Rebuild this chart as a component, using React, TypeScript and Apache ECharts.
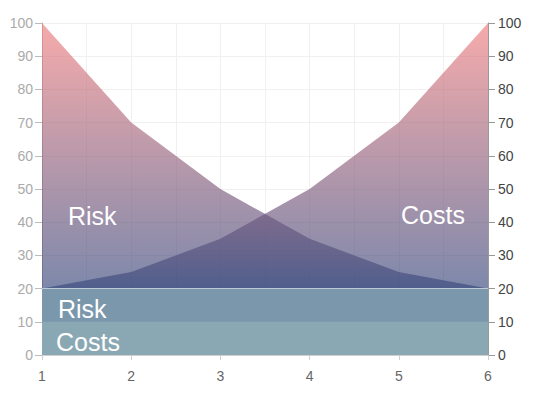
import React, { useEffect, useRef } from "react";
import * as echarts from "echarts";

const xValues = [1, 2, 3, 4, 5, 6];
const riskValues = [100, 70, 50, 35, 25, 20];
const costValues = [20, 25, 35, 50, 70, 100];
const bandTops = [10, 20];
const bandLabels = ["Costs", "Risk"];
const areaLabels = ["Risk", "Costs"];
const baseLevel = 20;

const W = 538;
const H = 395;
const GRID = { left: 42, right: 50, top: 23, bottom: 40 };

export default function App() {
  const ref = useRef<HTMLDivElement>(null);
  useEffect(() => {
    if (!ref.current) return;
    const chart = echarts.init(ref.current, null, { renderer: "svg" });
    const plotH = H - GRID.top - GRID.bottom;
    const yTop = GRID.top;
    const y20 = GRID.top + plotH * (1 - baseLevel / 100);
    const grad = {
      type: "linear",
      x: 0,
      y: yTop,
      x2: 0,
      y2: y20,
      global: true,
      colorStops: [
        { offset: 0, color: "rgba(241,125,125,0.65)" },
        { offset: 1, color: "rgba(56,72,125,0.65)" },
      ],
    };
    const font = "'Liberation Sans', Arial, Helvetica, sans-serif";
    const xEnds = [xValues[0], xValues[xValues.length - 1]];
    const option: any = {
      animation: false,
      grid: GRID,
      xAxis: {
        type: "value",
        min: 1,
        max: 6,
        interval: 1,
        axisLine: { show: true, lineStyle: { color: "#cfcfcf" } },
        axisTick: { show: true, length: 5, lineStyle: { color: "#cfcfcf" } },
        axisLabel: { color: "#666", fontSize: 14, margin: 14, fontFamily: font },
        splitLine: { show: true, lineStyle: { color: "#f0f0f0" } },
        minorTick: { show: false, splitNumber: 2 },
        minorSplitLine: { show: true, lineStyle: { color: "#f0f0f0" } },
      },
      yAxis: [
        {
          type: "value",
          min: 0,
          max: 100,
          interval: 10,
          position: "left",
          axisLine: { show: true, lineStyle: { color: "#bbb" } },
          axisTick: { show: true, length: 7, lineStyle: { color: "#bbb" } },
          axisLabel: { color: "#aaa", fontSize: 14, margin: 9, fontFamily: font },
          splitLine: { show: true, lineStyle: { color: "#f0f0f0" } },
        },
        {
          type: "value",
          min: 0,
          max: 100,
          interval: 10,
          position: "right",
          axisLine: { show: true, lineStyle: { color: "#999" } },
          axisTick: { show: true, length: 7, lineStyle: { color: "#999" } },
          axisLabel: { color: "#444", fontSize: 14, margin: 10, fontFamily: font },
          splitLine: { show: false },
        },
      ],
      series: [
        {
          name: "Risk",
          type: "line",
          data: xValues.map((x, i) => [x, riskValues[i]]),
          symbol: "none",
          lineStyle: { width: 0 },
          areaStyle: { color: grad, opacity: 1 },
          z: 2,
        },
        {
          name: "Costs",
          type: "line",
          data: xValues.map((x, i) => [x, costValues[i]]),
          symbol: "none",
          lineStyle: { width: 0 },
          areaStyle: { color: grad, opacity: 1 },
          z: 2,
        },
        {
          name: "RiskBand",
          type: "line",
          data: xEnds.map((x) => [x, bandTops[1]]),
          symbol: "none",
          lineStyle: { width: 0 },
          areaStyle: { color: "#7a97ab", opacity: 1, origin: "start" },
          z: 5,
          silent: true,
        },
        {
          name: "CostsBand",
          type: "line",
          data: xEnds.map((x) => [x, bandTops[0]]),
          symbol: "none",
          lineStyle: { width: 0 },
          areaStyle: { color: "#8aa8b4", opacity: 1, origin: "start" },
          z: 6,
          silent: true,
          markLine: {
            silent: true,
            symbol: "none",
            label: { show: false },
            lineStyle: { color: "#fff", width: 2, type: "solid" },
            data: [{ yAxis: baseLevel }],
          },
        },
      ],
      graphic: [
        {
          type: "text",
          left: 68,
          top: 203,
          z: 10,
          style: { text: areaLabels[0], fill: "#fff", fontSize: 25, fontFamily: font },
        },
        {
          type: "text",
          left: 401,
          top: 202,
          z: 10,
          style: { text: areaLabels[1], fill: "#fff", fontSize: 25, fontFamily: font },
        },
        {
          type: "text",
          left: 58,
          top: 296,
          z: 10,
          style: { text: bandLabels[1], fill: "#fff", fontSize: 25, fontFamily: font },
        },
        {
          type: "text",
          left: 56,
          top: 329,
          z: 10,
          style: { text: bandLabels[0], fill: "#fff", fontSize: 25, fontFamily: font },
        },
      ],
    };
    chart.setOption(option);
    return () => chart.dispose();
  }, []);
  return <div ref={ref} style={{ width: W, height: H, position: "absolute", left: 0, top: 0 }} />;
}
